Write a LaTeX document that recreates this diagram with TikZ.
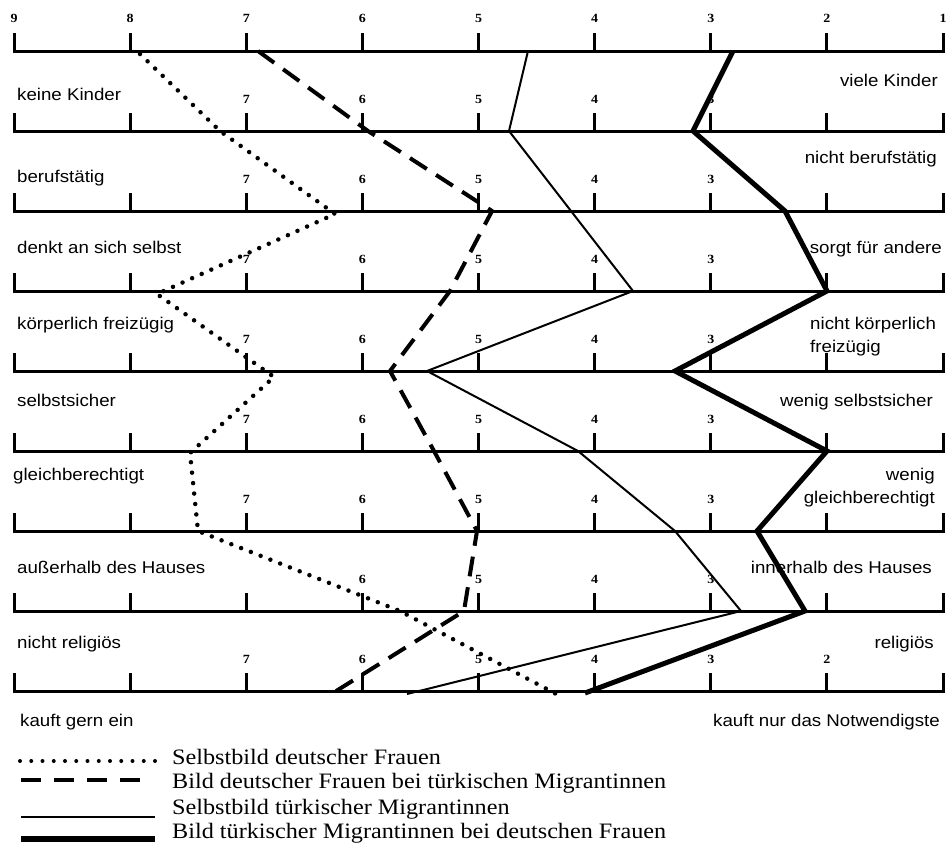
\documentclass[tikz,border=0pt]{standalone}
\usepackage{fontspec}
\newfontfamily\labfont[FakeStretch=1.1]{Liberation Sans}
\newfontfamily\numfont[FakeStretch=1.12]{Liberation Serif}
\newfontfamily\legfont[FakeStretch=1.1]{Liberation Serif}
\begin{document}
\begin{tikzpicture}[x=1pt,y=-1pt,
  axis/.style={line width=3pt},
  tickmark/.style={line width=3pt},
  lab/.style={font=\labfont\fontsize{17}{19}\selectfont, inner sep=0pt},
  labl/.style={lab, anchor=base west},
  labr/.style={lab, anchor=base east},
  num/.style={font=\numfont\bfseries\fontsize{12.5}{14}\selectfont, inner sep=0pt, anchor=base},
  leg/.style={font=\legfont\fontsize{22}{24}\selectfont, inner sep=0pt, anchor=base west},
  sdot/.style={line width=4.5pt, line cap=round, line join=round, dash pattern=on 0pt off 10.5pt},
  sdash/.style={line width=4pt, dash pattern=on 20pt off 11pt},
  sthin/.style={line width=2pt},
  sthick/.style={line width=5pt}]
\useasboundingbox (0,0) rectangle (946,849);
\fill[white] (0,0) rectangle (946,849);

% axes and ticks
\foreach \k in {0,...,8}{
  \pgfmathsetmacro\yy{51.5+80*\k}
  \coordinate (axl\k) at (12.5,\yy);
  \coordinate (axr\k) at (944.5,\yy);
  \draw[axis] (axl\k) -- (axr\k);
  \foreach \v in {1,...,9}{
    \coordinate (tk\k-\v) at ({14+(9-\v)*116.125},\yy);
    \draw[tickmark] (tk\k-\v) -- ++(0,-19);
  }
}

% scale numbers
\foreach \v in {9,...,1}{
  \node[num] (n0-\v) at ({14+(9-\v)*116.125},22.5) {\v};
}
\foreach \k/\vals in {1/{7,6,5,4,3},2/{7,6,5,4,3},3/{7,6,5,4,3},4/{7,6,5,4,3},5/{7,6,5,4,3},6/{7,6,5,4,3},7/{6,5,4,3},8/{7,6,5,4,3,2}}{
  \foreach \v in \vals{
    \node[num] (n\k-\v) at ({14+(9-\v)*116.125},{51.5+80*\k-28.5}) {\v};
  }
}

% labels left
\node[labl] (l0) at (17,100) {keine Kinder};
\node[labl] (l1) at (17,182) {berufstätig};
\node[labl] (l2) at (17,253) {denkt an sich selbst};
\node[labl] (l3) at (17,329) {körperlich freizügig};
\node[labl] (l4) at (17,406) {selbstsicher};
\node[labl] (l5) at (13,480) {gleichberechtigt};
\node[labl] (l6) at (17,573) {außerhalb des Hauses};
\node[labl] (l7) at (17,648) {nicht religiös};
\node[labl] (l8) at (20,726) {kauft gern ein};
% labels right
\node[labr] (r0) at (938,86) {viele Kinder};
\node[labr] (r1) at (937,163) {nicht berufstätig};
\node[labr] (r2) at (942,253) {sorgt für andere};
\node[labl] (r3a) at (810,329) {nicht körperlich};
\node[labl] (r3b) at (810,352) {freizügig};
\node[labr] (r4) at (933,406) {wenig selbstsicher};
\node[labr] (r5a) at (935,480) {wenig};
\node[labr] (r5b) at (935,503) {gleichberechtigt};
\node[labr] (r6) at (932,573) {innerhalb des Hauses};
\node[labr] (r7) at (934,648) {religiös};
\node[labr] (r8) at (940,726) {kauft nur das Notwendigste};

% series: dotted (Selbstbild deutscher Frauen)
\coordinate (d0) at (140,54);
\coordinate (d1) at (220,131);
\coordinate (d2) at (335,214);
\coordinate (d3) at (157,294);
\coordinate (d4) at (274,377);
\coordinate (d5) at (190,453);
\coordinate (d6) at (198,531);
\coordinate (d7) at (400,611);
\coordinate (d8) at (560,696);
\draw[sdot] (d0) -- (d1) -- (d2) -- (d3) -- (d4) -- (d5) -- (d6) -- (d7) -- (d8);

% dashed (Bild deutscher Frauen bei tuerkischen Migrantinnen)
\coordinate (e0) at (258,51);
\coordinate (e1) at (368,131);
\coordinate (e2) at (492,211);
\coordinate (e3) at (450,291);
\coordinate (e4) at (390,371);
\coordinate (e5) at (434,451);
\coordinate (e6) at (477,531);
\coordinate (e7) at (464,611);
\coordinate (e8) at (333,693);
\draw[sdash] (e0) -- (e1) -- (e2) -- (e3) -- (e4) -- (e5) -- (e6) -- (e7) -- (e8);

% thin (Selbstbild tuerkischer Migrantinnen)
\coordinate (s0) at (528,51);
\coordinate (s1) at (509,131);
\coordinate (s3) at (633,291);
\coordinate (s4) at (427,371);
\coordinate (s5) at (578,451);
\coordinate (s6) at (675,531);
\coordinate (s7) at (741,611);
\coordinate (s8) at (407,694);
\draw[sthin] (s0) -- (s1) -- (s3) -- (s4) -- (s5) -- (s6) -- (s7) -- (s8);

% thick (Bild tuerkischer Migrantinnen bei deutschen Frauen)
\coordinate (t0) at (733,51);
\coordinate (t1) at (693,131);
\coordinate (t2) at (785,211);
\coordinate (t3) at (827,291);
\coordinate (t4) at (675,371);
\coordinate (t5) at (827,451);
\coordinate (t6) at (757,531);
\coordinate (t7) at (805,611);
\coordinate (t8) at (585,693);
\draw[sthick] (t0) -- (t1) -- (t2) -- (t3) -- (t4) -- (t5) -- (t6) -- (t7) -- (t8);

% legend
\coordinate (g1a) at (20,761); \coordinate (g1b) at (155,761);
\coordinate (g2a) at (21,780); \coordinate (g2b) at (141,780);
\coordinate (g3a) at (21,817); \coordinate (g3b) at (155,817);
\coordinate (g4a) at (21,839); \coordinate (g4b) at (155,839);
\draw[line width=4pt, line cap=round, dash pattern=on 0pt off 11.25pt] (g1a) -- (g1b);
\draw[line width=4.5pt, dash pattern=on 20pt off 13pt] (g2a) -- (g2b);
\draw[line width=2pt] (g3a) -- (g3b);
\draw[line width=6pt] (g4a) -- (g4b);
\node[leg] (k1) at (172,764) {Selbstbild deutscher Frauen};
\node[leg] (k2) at (172,788) {Bild deutscher Frauen bei türkischen Migrantinnen};
\node[leg] (k3) at (172,814) {Selbstbild türkischer Migrantinnen};
\node[leg] (k4) at (172,838) {Bild türkischer Migrantinnen bei deutschen Frauen};
\end{tikzpicture}
\end{document}
